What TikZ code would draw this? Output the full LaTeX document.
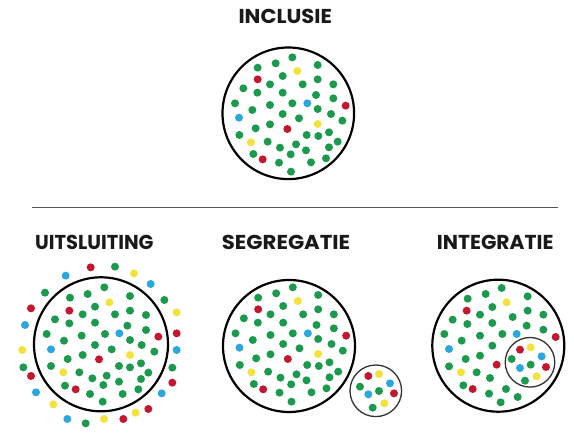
\documentclass[tikz,border=0pt]{standalone}
\usepackage{fontspec}
\newfontfamily\titlefont{Poppins}
\definecolor{G}{HTML}{1B9A4E}
\definecolor{R}{HTML}{C2172F}
\definecolor{Y}{HTML}{F3E23A}
\definecolor{B}{HTML}{2AA7DF}
\definecolor{linegray}{HTML}{555555}
\definecolor{thin}{HTML}{333333}
\newcommand{\mytitle}[2]{\resizebox{#1pt}{14.3pt}{\titlefont\bfseries #2}}
\tikzset{
  bigcircle/.style={draw=black, line width=2.2pt},
  smallcircle/.style={draw=thin, line width=1.3pt},
  title/.style={anchor=south west, inner sep=0pt, text=black!90},
  rule/.style={draw=linegray, line width=1.4pt}
}
\begin{document}
\begin{tikzpicture}[x=1pt, y=-1pt]
\useasboundingbox[fill=white] (0,0) rectangle (574,438);

% titles
\node[title] (tinc) at (238.3,23.7) {\mytitle{93.4}{INCLUSIE}};
\node[title] (tuit) at (35,250) {\mytitle{118.3}{UITSLUITING}};
\node[title] (tseg) at (221.7,250.3) {\mytitle{128.3}{SEGREGATIE}};
\node[title] (tint) at (436.7,250) {\mytitle{116.6}{INTEGRATIE}};

% rule
\coordinate (ruleL) at (31.7,207.3);
\coordinate (ruleR) at (558,207.3);
\draw[rule] (ruleL) -- (ruleR);

% pattern used in INCLUSIE and SEGREGATIE
\def\pattern{G/217/37, G/167/55, G/113/68, G/293/60, Y/232/78, G/188/93, R/113/103, G/150/118, G/248/118, G/293/103, G/340/118, G/70/130, G/112/143, G/188/143, G/288/150, G/340/160, B/262/175, R/377/182, G/45/175, G/150/180, G/217/175, G/97/195, G/293/192, G/188/207, G/237/220, G/333/207, B/57/218, G/367/227, G/150/238, Y/293/237, G/107/250, R/202/252, G/327/262, G/260/270, G/295/273, G/58/270, Y/93/292, G/143/290, G/353/290, G/228/298, G/180/308, G/258/316, G/327/307, G/100/327, G/212/328, R/128/343, G/318/340, G/177/353, G/273/352, G/213/380}
\def\dr{4pt}

% INCLUSIE
\draw[bigcircle] (288.3,113.3) circle[radius=65.8pt];
\begin{scope}[shift={(220,45)}]
\foreach \c/\x/\y in \pattern { \fill[\c] (\x/3,\y/3) circle[radius=\dr]; }
\end{scope}

% SEGREGATIE
\draw[bigcircle] (289,346) circle[radius=66pt];
\begin{scope}[shift={(220.5,275)}]
\foreach \c/\x/\y in \pattern { \fill[\c] (\x/3,\y/3) circle[radius=\dr]; }
\end{scope}
\draw[smallcircle] (375.8,390.8) circle[radius=25.8pt];
\begin{scope}[shift={(200,220)}]
\foreach \c/\x/\y in {R/505/468, Y/537/462, B/570/490, G/480/500, G/537/513, B/505/523, R/582/520, Y/553/550, G/518/563} { \fill[\c] (\x/3,\y/3) circle[radius=\dr]; }
\end{scope}

% INTEGRATIE
\draw[bigcircle] (498.3,345.7) circle[radius=66pt];
\begin{scope}[shift={(430,278)}]
\foreach \c/\x/\y in {G/215/30, G/167/48, G/113/62, G/293/55, Y/230/73, G/187/87, R/110/98, G/150/110, G/248/117, G/293/98, G/340/110, G/68/125, G/112/138, G/187/135, G/290/143, G/340/155, B/260/168, R/377/177, G/43/168, G/150/173, G/217/168, G/95/188, G/187/203, B/57/213, G/150/233, G/107/243, R/200/260, G/57/265, Y/93/283, G/140/283, G/180/300, G/100/322, R/128/333, G/228/333, G/177/347, G/263/357, G/212/373} { \fill[\c] (\x/3,\y/3) circle[radius=\dr]; }
\end{scope}
\draw[smallcircle] (530,362.3) circle[radius=24.8pt];
\begin{scope}[shift={(430,278)}]
\foreach \c/\x/\y in {R/270/215, Y/302/208, B/335/235, G/245/243, G/302/260, R/348/267, B/270/270, Y/320/295, G/285/308} { \fill[\c] (\x/3,\y/3) circle[radius=\dr]; }
\end{scope}

% UITSLUITING
\draw[bigcircle] (101,344.3) circle[radius=67pt];
\begin{scope}[shift={(15,260)}]
\foreach \c/\x/\y in {R/227/22, G/300/20, Y/357/40, B/152/47, B/407/72, G/90/98, G/448/120, R/48/145, Y/485/157, B/30/195, R/485/220, Y/22/270, B/485/270, G/25/322, G/472/323, R/48/348, R/472/368, B/63/397, B/440/400, Y/115/433, R/400/447, Y/362/458, B/157/477, G/212/490, Y/267/477, R/325/477} { \fill[\c] (\x/3,\y/3) circle[radius=\dr]; }
\foreach \c/\x/\y in {G/268/82, G/165/113, G/218/102, G/345/108, Y/283/127, R/163/152, G/240/140, G/203/163, G/300/163, G/345/152, G/393/165, G/120/178, G/163/190, G/240/188, G/337/197, G/393/210, R/430/230, G/95/222, G/200/227, G/270/222, B/313/220, G/345/240, G/380/255, G/147/242, G/240/255, B/108/268, G/290/268, G/418/275, Y/345/285, G/203/285, G/158/297, R/252/298, G/378/310, G/108/318, G/312/318, G/345/322, Y/145/337, G/193/337, G/275/347, G/400/338, G/232/355, G/312/365, G/378/357, G/150/377, R/182/388, G/265/375, G/225/402, G/323/402, G/370/388, G/263/425} { \fill[\c] (\x/3,\y/3) circle[radius=\dr]; }
\end{scope}
\end{tikzpicture}
\end{document}
